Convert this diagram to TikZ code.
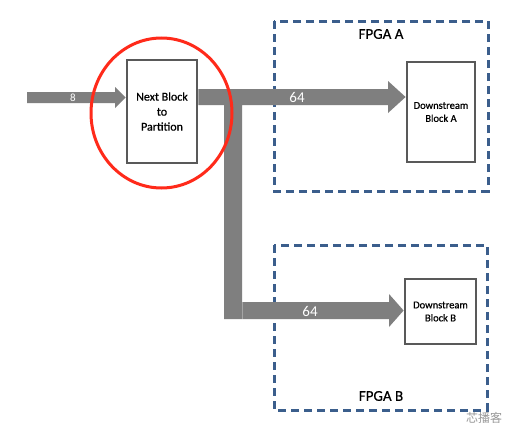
\documentclass[tikz,border=0pt]{standalone}
\usepackage{fontspec}
\setmainfont{Carlito}
\newfontfamily\heavy[FakeBold=0.6]{Carlito}
\newfontfamily\cjk{Noto Sans CJK SC}
\begin{document}
\begin{tikzpicture}[x=1pt,y=-1pt,
  blockbox/.style={draw=boxgray,line width=2.8pt,fill=white,align=center,inner sep=0pt},
  fpgabox/.style={draw=fpgablue,line width=3pt,dash pattern=on 8pt off 5pt},
  busfill/.style={fill=busgray,draw=none},
  buslabel/.style={text=white,inner sep=0pt},
  fpgalabel/.style={font=\heavy\fontsize{15}{17}\selectfont,inner sep=0pt}]
\definecolor{boxgray}{HTML}{595959}
\definecolor{fpgablue}{HTML}{3B5E8C}
\definecolor{busgray}{HTML}{7F7F7F}
\definecolor{ringred}{HTML}{FF2A1A}
\useasboundingbox (0,0) rectangle (511,439);
\fill[white] (0,0) rectangle (511,439);
% FPGA regions
\draw[fpgabox] (274,21) rectangle (488,191);
\draw[fpgabox] (274,245) rectangle (487,410);
\node[fpgalabel] (fa) at (381,34) {FPGA A};
\node[fpgalabel] (fb) at (381,396) {FPGA B};
% blocks
\node[blockbox,minimum width=70pt,minimum height=103pt,
  font=\heavy\fontsize{12}{15}\selectfont] (nb) at (162,111.5) {Next Block\\to\\Partition};
\node[blockbox,minimum width=68pt,minimum height=100pt,
  font=\heavy\fontsize{10.5}{13}\selectfont] (da) at (441,112) {Downstream\\Block A};
\node[blockbox,minimum width=71pt,minimum height=65pt,
  font=\heavy\fontsize{10.5}{13}\selectfont] (db) at (440.5,311.5) {Downstream\\Block B};
\coordinate (in) at (27,97.5);
% input bus (8)
\fill[busfill] (in) ++(0,-5.5) -- (115,92) -- (115,87) -- (nb.west |- in) -- (115,108) -- (115,103) -- (27,103) -- cycle;
\node[buslabel,font=\fontsize{11}{13}\selectfont] (l8) at (73,97.5) {8};
% output bus to A
\fill[busfill] (nb.east |- 0,89) -- (388,89) -- (388,81) -- (da.west |- 0,97) -- (388,113) -- (388,105) -- (242,105) -- (242,319) -- (224,319) -- (224,105) -- (nb.east |- 0,105) -- cycle;
% output bus to B
\fill[busfill] (242.3,302) -- (389,302) -- (389,294) -- (db.west |- 0,310.5) -- (389,327) -- (389,319) -- (242.3,319) -- cycle;
\node[buslabel,font=\fontsize{15}{17}\selectfont] (l64a) at (297,97) {64};
\node[buslabel,font=\fontsize{15}{17}\selectfont] (l64b) at (310,311) {64};
% red ring
\draw[ringred,line width=3pt] (161.5,113) ellipse [x radius=70.5, y radius=75];
% watermark
\node[text=black!40,font=\cjk\fontsize{12}{14}\selectfont,inner sep=0pt] (wm) at (484,418) {芯播客};
\end{tikzpicture}
\end{document}
